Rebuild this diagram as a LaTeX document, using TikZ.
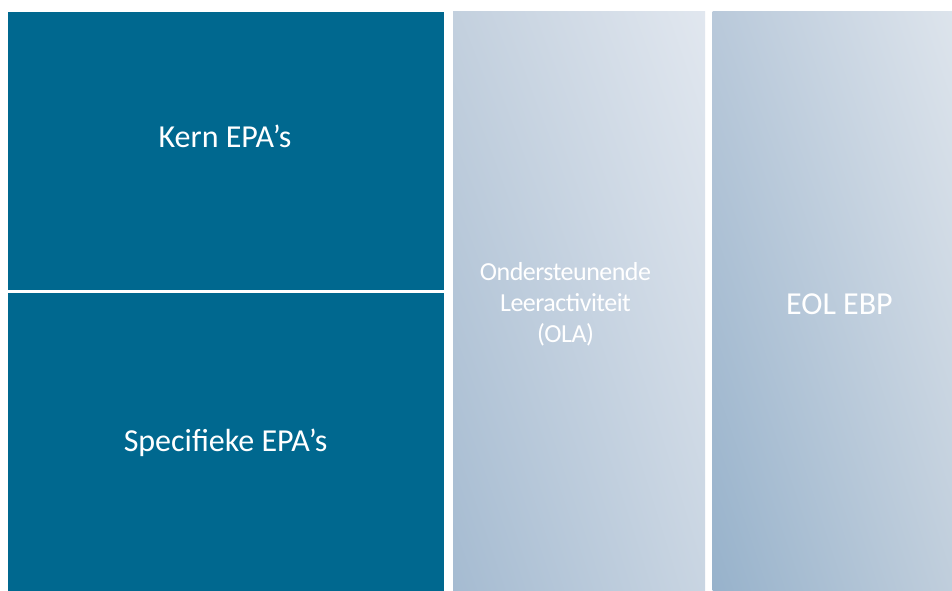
\documentclass[tikz,border=0pt]{standalone}
\usepackage{fontspec}
\setmainfont{Carlito}
\newfontfamily\tightfont[LetterSpace=-2]{Carlito}
\usetikzlibrary{shadings}
\definecolor{dkblue}{HTML}{00688F}
\definecolor{mUL}{HTML}{C3D0DE}
\definecolor{mUR}{HTML}{E1E7EF}
\definecolor{mLL}{HTML}{A5BBD1}
\definecolor{mLR}{HTML}{C9D5E2}
\definecolor{rUL}{HTML}{B9C9DA}
\definecolor{rUR}{HTML}{DDE4EC}
\definecolor{rLL}{HTML}{97B2CB}
\definecolor{rLR}{HTML}{C0CEDC}
\begin{document}
\begin{tikzpicture}[x=1pt,y=-1pt]
\tikzset{
  panel/.style={anchor=north west, inner sep=0pt, outer sep=0pt, draw=none},
  lbl/.style={text=white, font=\fontsize{32}{38}\selectfont, align=center, inner sep=0pt},
  tightlbl/.style={text=white, font=\tightfont\fontsize{26}{31}\selectfont, align=center, inner sep=0pt}
}
\useasboundingbox[fill=white] (0,0) rectangle (952,590);
\node[panel, fill=dkblue, minimum width=436pt, minimum height=278pt] (kern) at (8,11.5) {};
\node[panel, fill=dkblue, minimum width=436pt, minimum height=298pt] (spec) at (8,293) {};
\node[panel, minimum width=252pt, minimum height=579pt,
  upper left=mUL, upper right=mUR, lower left=mLL, lower right=mLR] (ola) at (453,11.5) {};
\node[panel, minimum width=240pt, minimum height=579pt,
  upper left=rUL, upper right=rUR, lower left=rLL, lower right=rLR] (eol) at (712.5,11.5) {};
\node[lbl] (tkern) at (225,136) {Kern EPA’s};
\node[lbl] (tspec) at (225.5,443) {Specifieke EPA’s};
\node[tightlbl] (tola) at (565.5,304) {Ondersteunende\\Leeractiviteit\\(OLA)};
\node[lbl] (teol) at (839.5,304) {EOL EBP};
\end{tikzpicture}
\end{document}
